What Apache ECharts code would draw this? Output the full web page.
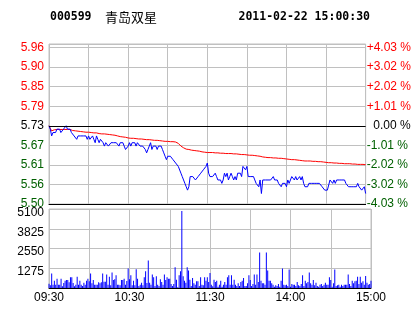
<!DOCTYPE html>
<html><head><meta charset="utf-8">
<script src="https://cdn.jsdelivr.net/npm/echarts@6/dist/echarts.min.js"></script>
<style>html,body{margin:0;padding:0;background:#fff}#c{width:414px;height:314px}</style>
</head><body><div id="c"></div><script>
const stockCode = '000599';
const stockName = '青岛双星';
const timestamp = '2011-02-22 15:00:30';
const prevClose = 5.73;
const priceTickLabels = ['5.50','5.56','5.61','5.67','5.73','5.79','5.85','5.90','5.96'];
const pctTickLabels = ['-4.03 %','-3.02 %','-2.02 %','-1.01 %','  0.00 %','+1.01 %','+2.02 %','+3.02 %','+4.03 %'];
const volumeTickLabels = ['', '1275', '2550', '3825', '5100'];
const timeTickLabels = ['09:30', '', '10:30', '', '11:30', '', '14:00', '', '15:00'];

const priceValues = [
5.73,5.72,5.70,5.71,5.71,5.71,5.72,5.72,5.72,5.71,
5.71,5.72,5.72,5.73,5.72,5.72,5.72,5.71,5.71,5.70,
5.70,5.69,5.70,5.70,5.70,5.70,5.70,5.70,5.70,5.69,
5.70,5.69,5.69,5.70,5.69,5.68,5.70,5.69,5.68,5.69,
5.69,5.68,5.67,5.68,5.68,5.67,5.67,5.68,5.68,5.68,
5.68,5.68,5.68,5.67,5.68,5.68,5.68,5.67,5.66,5.66,
5.67,5.68,5.67,5.68,5.68,5.68,5.67,5.68,5.68,5.67,
5.67,5.67,5.67,5.66,5.65,5.66,5.67,5.68,5.66,5.67,
5.67,5.67,5.66,5.67,5.67,5.67,5.66,5.65,5.64,5.63,
5.64,5.64,5.64,5.64,5.63,5.63,5.62,5.62,5.61,5.61,
5.59,5.58,5.57,5.56,5.55,5.54,5.55,5.58,5.58,5.58,
5.58,5.57,5.57,5.58,5.58,5.59,5.59,5.60,5.60,5.61,5.62,
5.59,5.58,5.58,5.58,5.58,5.59,5.58,5.57,5.57,5.57,
5.56,5.57,5.59,5.58,5.59,5.57,5.58,5.59,5.58,5.57,
5.58,5.57,5.59,5.59,5.59,5.58,5.61,5.61,5.60,5.61,
5.58,5.58,5.58,5.58,5.58,5.57,5.56,5.56,5.55,5.57,
5.53,5.57,5.57,5.57,5.57,5.57,5.57,5.57,5.57,5.58,
5.57,5.57,5.57,5.56,5.56,5.55,5.56,5.56,5.56,5.55,
5.57,5.56,5.56,5.58,5.58,5.57,5.58,5.57,5.57,5.58,
5.57,5.58,5.56,5.55,5.55,5.55,5.56,5.56,5.56,5.56,
5.56,5.56,5.56,5.56,5.56,5.56,5.55,5.55,5.54,5.54,
5.54,5.54,5.57,5.57,5.56,5.57,5.56,5.57,5.57,5.57,
5.57,5.57,5.57,5.57,5.56,5.56,5.55,5.55,5.55,5.55,
5.55,5.55,5.55,5.56,5.55,5.55,5.54,5.54,5.55,5.53
];

const avgValues = [
5.730,5.722,5.715,5.716,5.718,5.719,5.719,5.719,5.719,5.719,
5.719,5.719,5.719,5.719,5.719,5.719,5.719,5.717,5.716,5.716,
5.715,5.714,5.714,5.713,5.713,5.712,5.712,5.712,5.711,5.711,
5.711,5.710,5.710,5.710,5.709,5.709,5.709,5.708,5.707,5.707,
5.706,5.706,5.706,5.706,5.705,5.705,5.704,5.703,5.703,5.702,
5.702,5.701,5.700,5.699,5.698,5.698,5.697,5.696,5.696,5.695,
5.694,5.694,5.693,5.693,5.693,5.692,5.692,5.692,5.691,5.691,
5.691,5.690,5.690,5.690,5.689,5.689,5.689,5.688,5.688,5.687,
5.687,5.687,5.687,5.686,5.686,5.686,5.685,5.685,5.684,5.684,
5.684,5.684,5.683,5.683,5.683,5.683,5.682,5.680,5.678,5.673,
5.670,5.667,5.665,5.663,5.661,5.660,5.660,5.659,5.658,5.658,
5.657,5.657,5.656,5.655,5.655,5.654,5.653,5.653,5.652,5.652,5.651,
5.651,5.651,5.651,5.651,5.650,5.650,5.650,5.650,5.650,5.649,
5.649,5.649,5.649,5.648,5.648,5.648,5.648,5.648,5.647,5.647,
5.647,5.647,5.646,5.646,5.646,5.645,5.645,5.645,
5.644,5.644,5.644,5.643,5.643,5.643,5.642,5.642,
5.641,5.641,5.640,5.640,5.640,5.638,5.637,5.637,
5.637,5.636,5.636,5.636,5.636,5.635,5.635,5.635,5.635,5.634,5.634,5.634,5.633,5.633,
5.632,5.632,5.631,5.631,5.631,5.630,5.630,5.630,5.629,5.629,5.628,5.628,5.627,
5.627,5.627,5.626,5.626,5.626,5.626,5.626,5.625,5.625,5.625,5.625,5.625,5.624,5.624,5.624,
5.623,5.623,5.622,5.622,5.622,5.621,5.621,5.621,5.621,5.620,5.620,5.620,5.620,5.619,5.619,
5.619,5.618,5.618,5.618,5.618,5.618,5.618,5.617,5.617,5.617,5.617,5.617,5.616,5.616,5.616,
5.616,5.616,5.615,5.615
];

const volumeValues = [
280,173,930,216,475,216,605,216,216,605,
108,324,475,518,518,367,691,691,324,108,
216,734,216,475,216,130,346,216,475,605,
432,930,302,518,216,216,216,367,302,367,
930,410,410,864,216,734,173,994,518,562,
821,216,216,173,518,518,605,216,454,1253,
562,821,173,475,173,1210,605,130,216,346,
173,691,1080,324,1771,346,216,864,691,130,
756,216,130,562,389,216,864,518,691,605,
605,259,130,259,1339,540,43,821,1080,4968,
756,475,346,1339,1123,540,130,648,302,216,
432,432,130,691,216,173,691,475,691,389,972,
216,108,540,389,475,86,216,475,86,216,
389,216,691,821,216,821,216,540,216,130,
302,130,389,475,648,130,130,302,821,518,
130,259,864,216,864,389,2290,475,302,302,
216,2290,1123,475,475,302,216,86,173,130,
259,86,475,1253,216,173,216,130,1188,86,
259,216,216,130,389,173,130,259,821,130,
475,302,389,994,302,216,518,173,346,130,
86,216,259,130,216,346,216,216,691,518,
86,302,1188,130,173,216,86,216,130,216,
216,216,864,259,130,475,302,432,475,734,
259,734,346,432,216,778,346,216,259,475
];

const pctTop = 4.03, steps = 8, topExtra = 0.18;
const unit = prevClose * pctTop * 2 / 100 / steps;
const pMin = prevClose * (1 - pctTop / 100);
const pMax = pMin + unit * (steps + topExtra);
const GREEN = '#006000', RED = '#ff0000';
const FONT = 'Liberation Sans';
const GRID = '#c0c0c0';

function tickIdx(v) { const i = Math.round(v); return Math.abs(v - i) < 1e-6 ? i : -1; }
const richStyle = {
  r: {color: RED, fontSize: 12, fontFamily: FONT},
  g: {color: GREEN, fontSize: 12, fontFamily: FONT},
  k: {color: '#000', fontSize: 12, fontFamily: FONT}
};
function cls(i) { return i > 4 ? 'r' : (i < 4 ? 'g' : 'k'); }

const chart = echarts.init(document.getElementById('c'), null, {renderer: 'canvas'});
chart.setOption({
  animation: false,
  backgroundColor: '#fff',
  graphic: [
    {type: 'text', x: 50, y: 17, style: {text: stockCode, font: 'bold 11.5px "DejaVu Sans Mono"', fill: '#000', verticalAlign: 'middle'}},
    {type: 'text', x: 105, y: 17.5, style: {text: stockName, font: '13px "Noto Sans CJK SC"', fill: '#000', verticalAlign: 'middle'}},
    {type: 'text', x: 370, y: 17, style: {text: timestamp, font: 'bold 11.5px "DejaVu Sans Mono"', fill: '#000', align: 'right', verticalAlign: 'middle'}}
  ],
  grid: [
    {left: 49, right: 43, top: 44, height: 160, show: true, borderColor: GRID, borderWidth: 1, backgroundColor: 'transparent'},
    {left: 49, right: 43, top: 209, height: 79, show: true, borderColor: GRID, borderWidth: 1, backgroundColor: 'transparent'}
  ],
  xAxis: [
    {type: 'value', gridIndex: 0, min: 0, max: 240, interval: 30,
     axisLine: {show: true, onZero: false, lineStyle: {color: '#000', width: 1}},
     axisTick: {show: false}, axisLabel: {show: false},
     splitLine: {show: true, lineStyle: {color: GRID, width: 1}}},
    {type: 'value', gridIndex: 1, min: 0, max: 240, interval: 30,
     axisLine: {show: true, onZero: false, lineStyle: {color: '#000', width: 1}},
     axisTick: {show: false},
     axisLabel: {color: '#000', fontSize: 12, fontFamily: FONT, margin: 4,
       formatter: v => timeTickLabels[Math.round(v / 30)] || ''},
     splitLine: {show: true, lineStyle: {color: GRID, width: 1}}}
  ],
  yAxis: [
    {type: 'value', gridIndex: 0, position: 'left', min: 0, max: steps + topExtra, interval: 1,
     axisLine: {show: false}, axisTick: {show: false},
     axisLabel: {margin: 5, formatter: v => { const i = tickIdx(v); return i < 0 ? '' : '{' + cls(i) + '|' + priceTickLabels[i] + '}'; }, rich: richStyle},
     splitLine: {show: true, lineStyle: {color: GRID, width: 1}}},
    {type: 'value', gridIndex: 0, position: 'right', min: 0, max: steps + topExtra, interval: 1,
     axisLine: {show: false}, axisTick: {show: false},
     axisLabel: {margin: 1, formatter: v => { const i = tickIdx(v); return i < 0 ? '' : '{' + cls(i) + '|' + pctTickLabels[i] + '}'; }, rich: richStyle},
     splitLine: {show: false}},
    {type: 'value', gridIndex: 0, min: pMin, max: pMax, show: false, splitLine: {show: false}},
    {type: 'value', gridIndex: 1, position: 'left', min: 0, max: 5100, interval: 1275,
     axisLine: {show: false}, axisTick: {show: false},
     axisLabel: {margin: 5,
       formatter: v => { const t = volumeTickLabels[Math.round(v / 1275)]; return t ? '{v|' + t + '}' : ''; },
       rich: {v: {color: '#000', fontSize: 12, fontFamily: FONT, padding: [7, 0, 0, 0]}}},
     splitLine: {show: true, lineStyle: {color: GRID, width: 1}}}
  ],
  series: [
    {type: 'line', name: 'avg', xAxisIndex: 0, yAxisIndex: 2, data: avgValues.map((v, i) => [i, v]),
     showSymbol: false, symbol: 'none', lineStyle: {color: RED, width: 1}, itemStyle: {color: RED}, z: 3},
    {type: 'line', name: 'price', xAxisIndex: 0, yAxisIndex: 2, data: priceValues.map((v, i) => [i, v]),
     showSymbol: false, symbol: 'none', lineStyle: {color: '#0000ff', width: 1}, itemStyle: {color: '#0000ff'}, z: 4,
     markLine: {silent: true, symbol: 'none', label: {show: false}, animation: false,
       lineStyle: {color: '#000', type: 'solid', width: 1}, data: [{yAxis: prevClose}]}},
    {type: 'bar', name: 'vol', xAxisIndex: 1, yAxisIndex: 3, data: volumeValues.map((v, i) => [i, v]),
     barWidth: 1, itemStyle: {color: '#0000ff'}}
  ]
});
</script></body></html>
